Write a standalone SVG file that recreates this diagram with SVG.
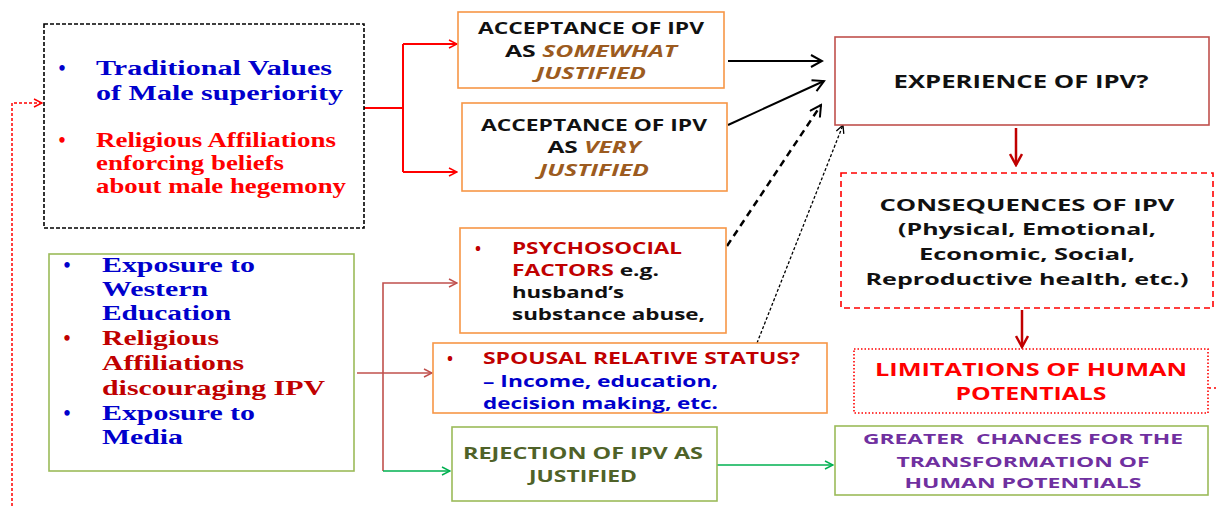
<svg xmlns="http://www.w3.org/2000/svg" width="1219" height="506" viewBox="0 0 1219 506">
<style>
.bg{fill:#fff}
.box{fill:#fff;stroke-width:1.6}
.org{stroke:#F79646}
.grn{stroke:#9BBB59}
.serif{font-family:"Liberation Serif","Times New Roman",serif;font-weight:bold;font-size:20px}
.sans{font-family:"Open Sans","DejaVu Sans",sans-serif;font-weight:bold}
.blue{fill:#0000CC}
.red{fill:#FF0000}
.dred{fill:#C00000}
.brown{fill:#9C5B20;font-style:italic}
.blk{fill:#111}
.line{fill:none}
</style>
<defs>
<marker id="aRed" markerWidth="10" markerHeight="10" refX="9" refY="5" orient="auto" markerUnits="userSpaceOnUse"><path d="M1,1 L9,5 L1,9" fill="none" stroke="#FF0000" stroke-width="1.5"/></marker>
<marker id="aBrn" markerWidth="10" markerHeight="10" refX="9" refY="5" orient="auto" markerUnits="userSpaceOnUse"><path d="M1,1 L9,5 L1,9" fill="none" stroke="#C0504D" stroke-width="1.5"/></marker>
<marker id="aGrn" markerWidth="10" markerHeight="10" refX="9" refY="5" orient="auto" markerUnits="userSpaceOnUse"><path d="M1,1 L9,5 L1,9" fill="none" stroke="#00B050" stroke-width="1.5"/></marker>
<marker id="aBlk" markerWidth="14" markerHeight="14" refX="12" refY="7" orient="auto" markerUnits="userSpaceOnUse"><path d="M1,1 L12,7 L1,13" fill="none" stroke="#000" stroke-width="2"/></marker>
<marker id="aBlkS" markerWidth="10" markerHeight="10" refX="9" refY="5" orient="auto" markerUnits="userSpaceOnUse"><path d="M1,1 L9,5 L1,9" fill="none" stroke="#000" stroke-width="1.3"/></marker>
<marker id="aDRed" markerWidth="14" markerHeight="14" refX="12" refY="7" orient="auto" markerUnits="userSpaceOnUse"><path d="M1,1 L12,7 L1,13" fill="none" stroke="#C00000" stroke-width="2.5"/></marker>
</defs>
<rect class="bg" x="0" y="0" width="1219" height="506"/>

<g id="connectors">
<path class="line" d="M12,506 V103 H42" stroke="#FF0000" stroke-width="1.5" stroke-dasharray="3,2" marker-end="url(#aRed)"/>
<path class="line" d="M364,108 H403 M403,44 V172" stroke="#FF0000" stroke-width="2"/>
<path class="line" d="M403,44 H457" stroke="#FF0000" stroke-width="2" marker-end="url(#aRed)"/>
<path class="line" d="M403,172 H457" stroke="#FF0000" stroke-width="2" marker-end="url(#aRed)"/>
<path class="line" d="M728,61 H822" stroke="#000" stroke-width="2" marker-end="url(#aBlk)"/>
<path class="line" d="M728,125 L824,81" stroke="#000" stroke-width="2" marker-end="url(#aBlk)"/>
<path class="line" d="M727,246 L821,105" stroke="#000" stroke-width="2.5" stroke-dasharray="7,5" marker-end="url(#aBlk)"/>
<path class="line" d="M757,343 L843,125" stroke="#000" stroke-width="1.3" stroke-dasharray="3,2" marker-end="url(#aBlkS)"/>
<path class="line" d="M1016,128 V165" stroke="#C00000" stroke-width="2.5" marker-end="url(#aDRed)"/>
<path class="line" d="M1022,310 V347" stroke="#C00000" stroke-width="2.5" marker-end="url(#aDRed)"/>
<path class="line" d="M1209,388 H1219" stroke="#FF0000" stroke-width="1.5" stroke-dasharray="2,3"/>
<path class="line" d="M357,373 H432" stroke="#C0504D" stroke-width="1.6" marker-end="url(#aBrn)"/>
<path class="line" d="M383,471 V283 H457" stroke="#C0504D" stroke-width="1.6" marker-end="url(#aBrn)"/>
<path class="line" d="M383,471 H450" stroke="#00B050" stroke-width="1.6" marker-end="url(#aGrn)"/>
<path class="line" d="M717,465 H833" stroke="#00B050" stroke-width="1.6" marker-end="url(#aGrn)"/>
</g>

<g id="traditional">
<rect class="box" x="44" y="24" width="320" height="204" stroke="#000" stroke-dasharray="4,2"/>
<text class="serif blue" x="62" y="75" text-anchor="middle">•</text>
<text class="serif blue" x="96" y="75" textLength="236" lengthAdjust="spacingAndGlyphs">Traditional Values</text>
<text class="serif blue" x="96" y="100" textLength="247" lengthAdjust="spacingAndGlyphs">of Male superiority</text>
<text class="serif red" x="62" y="147" text-anchor="middle">•</text>
<text class="serif red" x="96" y="147" textLength="240" lengthAdjust="spacingAndGlyphs">Religious Affiliations</text>
<text class="serif red" x="96" y="170" textLength="188" lengthAdjust="spacingAndGlyphs">enforcing beliefs</text>
<text class="serif red" x="96" y="193" textLength="250" lengthAdjust="spacingAndGlyphs">about male hegemony</text>
</g>

<g id="exposure">
<rect class="box grn" x="49" y="254" width="305" height="217"/>
<text class="serif blue" x="67" y="272" text-anchor="middle">•</text>
<text class="serif blue" x="102" y="272" textLength="153" lengthAdjust="spacingAndGlyphs">Exposure to</text>
<text class="serif blue" x="102" y="296" textLength="106" lengthAdjust="spacingAndGlyphs">Western</text>
<text class="serif blue" x="102" y="320" textLength="129" lengthAdjust="spacingAndGlyphs">Education</text>
<text class="serif dred" x="67" y="345" text-anchor="middle">•</text>
<text class="serif dred" x="102" y="345" textLength="117" lengthAdjust="spacingAndGlyphs">Religious</text>
<text class="serif dred" x="102" y="370" textLength="142" lengthAdjust="spacingAndGlyphs">Affiliations</text>
<text class="serif dred" x="102" y="395" textLength="223" lengthAdjust="spacingAndGlyphs">discouraging IPV</text>
<text class="serif blue" x="67" y="420" text-anchor="middle">•</text>
<text class="serif blue" x="102" y="420" textLength="153" lengthAdjust="spacingAndGlyphs">Exposure to</text>
<text class="serif blue" x="102" y="444" textLength="81" lengthAdjust="spacingAndGlyphs">Media</text>
</g>

<g id="somewhat">
<rect class="box org" x="458" y="12" width="266" height="76"/>
<text class="sans blk" x="591" y="34" font-size="16" text-anchor="middle" textLength="226" lengthAdjust="spacingAndGlyphs">ACCEPTANCE OF IPV</text>
<text class="sans blk" x="591" y="57" font-size="16" text-anchor="middle" textLength="172" lengthAdjust="spacingAndGlyphs">AS <tspan class="brown">SOMEWHAT</tspan></text>
<text class="sans brown" x="591" y="79" font-size="16" text-anchor="middle" textLength="110" lengthAdjust="spacingAndGlyphs">JUSTIFIED</text>
</g>

<g id="very">
<rect class="box org" x="462" y="103" width="265" height="88"/>
<text class="sans blk" x="594" y="131" font-size="16" text-anchor="middle" textLength="226" lengthAdjust="spacingAndGlyphs">ACCEPTANCE OF IPV</text>
<text class="sans blk" x="594" y="153" font-size="16" text-anchor="middle" textLength="93" lengthAdjust="spacingAndGlyphs">AS <tspan class="brown">VERY</tspan></text>
<text class="sans brown" x="594" y="176" font-size="16" text-anchor="middle" textLength="110" lengthAdjust="spacingAndGlyphs">JUSTIFIED</text>
</g>

<g id="psychosocial">
<rect class="box org" x="460" y="228" width="266" height="105"/>
<text class="sans dred" x="478" y="254" font-size="16" text-anchor="middle">•</text>
<text class="sans dred" x="512" y="254" font-size="16.5" textLength="170" lengthAdjust="spacingAndGlyphs">PSYCHOSOCIAL</text>
<text class="sans dred" x="512" y="276" font-size="16.5" textLength="147" lengthAdjust="spacingAndGlyphs">FACTORS <tspan class="blk">e.g.</tspan></text>
<text class="sans blk" x="512" y="298" font-size="16.5" textLength="112" lengthAdjust="spacingAndGlyphs">husband’s</text>
<text class="sans blk" x="512" y="320" font-size="16.5" textLength="193" lengthAdjust="spacingAndGlyphs">substance abuse,</text>
</g>

<g id="spousal">
<rect class="box org" x="433" y="343" width="394" height="70"/>
<text class="sans dred" x="450" y="364" font-size="16" text-anchor="middle">•</text>
<text class="sans dred" x="483" y="364" font-size="16" textLength="317" lengthAdjust="spacingAndGlyphs">SPOUSAL RELATIVE STATUS?</text>
<text class="sans blue" x="483" y="387" font-size="16" textLength="235" lengthAdjust="spacingAndGlyphs">– Income, education,</text>
<text class="sans blue" x="483" y="409" font-size="16" textLength="235" lengthAdjust="spacingAndGlyphs">decision making, etc.</text>
</g>

<g id="rejection">
<rect class="box grn" x="452" y="427" width="265" height="74"/>
<text class="sans" fill="#4F6228" x="583" y="459" font-size="15.5" text-anchor="middle" textLength="240" lengthAdjust="spacingAndGlyphs">REJECTION OF IPV AS</text>
<text class="sans" fill="#4F6228" x="583" y="482" font-size="15.5" text-anchor="middle" textLength="108" lengthAdjust="spacingAndGlyphs">JUSTIFIED</text>
</g>

<g id="experience">
<rect class="box" x="835" y="37" width="374" height="88" stroke="#C0504D"/>
<text class="sans blk" x="1021" y="88" font-size="17" text-anchor="middle" textLength="255" lengthAdjust="spacingAndGlyphs">EXPERIENCE OF IPV?</text>
</g>

<g id="consequences">
<rect class="box" x="841" y="173" width="372" height="135" stroke="#FF0000" stroke-dasharray="6,4"/>
<text class="sans blk" x="1027" y="211" font-size="16.5" text-anchor="middle" textLength="295" lengthAdjust="spacingAndGlyphs">CONSEQUENCES OF IPV</text>
<text class="sans blk" x="1027" y="235" font-size="16.5" text-anchor="middle" textLength="258" lengthAdjust="spacingAndGlyphs">(Physical, Emotional,</text>
<text class="sans blk" x="1027" y="260" font-size="16.5" text-anchor="middle" textLength="216" lengthAdjust="spacingAndGlyphs">Economic, Social,</text>
<text class="sans blk" x="1027" y="285" font-size="16.5" text-anchor="middle" textLength="323" lengthAdjust="spacingAndGlyphs">Reproductive health, etc.)</text>
</g>

<g id="limitations">
<rect class="box" x="854" y="349" width="354" height="64" stroke="#FF0000" stroke-width="1.4" stroke-dasharray="1.5,2"/>
<text class="sans red" x="1031" y="376" font-size="18" text-anchor="middle" textLength="312" lengthAdjust="spacingAndGlyphs">LIMITATIONS OF HUMAN</text>
<text class="sans red" x="1031" y="400" font-size="18" text-anchor="middle" textLength="151" lengthAdjust="spacingAndGlyphs">POTENTIALS</text>
</g>

<g id="greater">
<rect class="box grn" x="835" y="426" width="373" height="69"/>
<text class="sans" fill="#7030A0" x="1023" y="444" font-size="15" text-anchor="middle" textLength="320" lengthAdjust="spacingAndGlyphs" style="white-space:pre">GREATER  CHANCES FOR THE</text>
<text class="sans" fill="#7030A0" x="1023" y="467" font-size="15" text-anchor="middle" textLength="253" lengthAdjust="spacingAndGlyphs">TRANSFORMATION OF</text>
<text class="sans" fill="#7030A0" x="1023" y="488" font-size="15" text-anchor="middle" textLength="237" lengthAdjust="spacingAndGlyphs">HUMAN POTENTIALS</text>
</g>
</svg>
